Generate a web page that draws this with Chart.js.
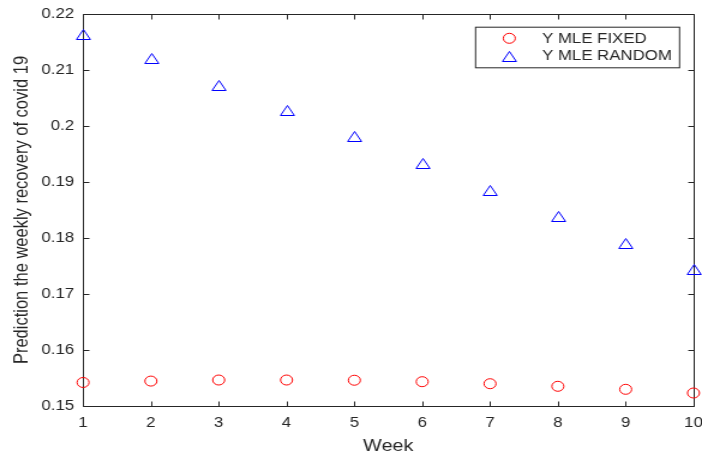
<!DOCTYPE html>
<html>
<head>
<meta charset="utf-8">
<title>Weekly recovery prediction</title>
<script src="https://cdn.jsdelivr.net/npm/chart.js@4/dist/chart.umd.min.js"></script>
<style>
  html, body { margin: 0; padding: 0; background: #fff; overflow: hidden; }
  /* the source figure is stretched ~1.2x horizontally, so draw narrow and stretch */
  #wrap { width: 585px; height: 454px; transform: scaleX(1.2); transform-origin: 0 0; }
</style>
</head>
<body>
<div id="wrap"><canvas id="chart" width="585" height="454"></canvas></div>
<script>
/* ---------------- DATA ---------------- */
const weeks       = [1, 2, 3, 4, 5, 6, 7, 8, 9, 10];
const yMleFixed   = [0.1542, 0.15445, 0.15464, 0.15464, 0.1546, 0.15434, 0.15398, 0.15352, 0.15298, 0.15232];
const yMleRandom  = [0.2165, 0.2121, 0.2074, 0.2028, 0.1982, 0.1934, 0.1886, 0.1839, 0.1791, 0.1745];
const seriesNames = ["Y MLE FIXED", "Y MLE RANDOM"];
const xTickValues = [1, 2, 3, 4, 5, 6, 7, 8, 9, 10];
const yTickValues = [0.15, 0.16, 0.17, 0.18, 0.19, 0.2, 0.21, 0.22];

/* --------------- STYLE ---------------- */
const FONT = "'Liberation Sans', Arial, Helvetica, sans-serif";
const INK  = "#262626";

// MATLAB '^' : open triangle centred on its bounding box, snapped to pixels
function strokeTriangle(ctx, x, y, color) {
  const cx = Math.round(x) + 0.5, cy = Math.round(y);
  ctx.save();
  ctx.strokeStyle = color;
  ctx.lineWidth = 1;
  ctx.beginPath();
  ctx.moveTo(cx, cy - 4.5);
  ctx.lineTo(cx - 5.8, cy + 5.5);
  ctx.lineTo(cx + 5.8, cy + 5.5);
  ctx.closePath();
  ctx.stroke();
  ctx.restore();
}

function strokeCircle(ctx, x, y, r, color) {
  ctx.save();
  ctx.strokeStyle = color;
  ctx.lineWidth = 1;
  ctx.beginPath();
  ctx.arc(x, y, r, 0, Math.PI * 2);
  ctx.stroke();
  ctx.restore();
}

/* box + inward ticks on all four sides */
const boxAxes = {
  id: "boxAxes",
  beforeDatasetsDraw(chart) {
    const { ctx, chartArea: a, scales: { x, y } } = chart;
    const L = Math.round(a.left) + 0.5, R = Math.round(a.right) + 0.5;
    const T = Math.round(a.top) + 0.5,  B = Math.round(a.bottom) + 0.5;
    ctx.save();
    ctx.strokeStyle = INK;
    ctx.lineWidth = 1;
    ctx.beginPath();
    ctx.rect(L, T, R - L, B - T);
    x.ticks.forEach(t => {
      const px = Math.round(x.getPixelForValue(t.value)) + 0.5;
      ctx.moveTo(px, B); ctx.lineTo(px, B - 5);
      ctx.moveTo(px, T); ctx.lineTo(px, T + 5);
    });
    y.ticks.forEach(t => {
      const py = Math.round(y.getPixelForValue(t.value)) + 0.5;
      ctx.moveTo(L, py); ctx.lineTo(L + 5, py);
      ctx.moveTo(R, py); ctx.lineTo(R - 5, py);
    });
    ctx.stroke();
    ctx.restore();
  }
};

/* triangles drawn at the points the scatter controller placed */
const triangleMarks = {
  id: "triangleMarks",
  afterDatasetsDraw(chart) {
    chart.data.datasets.forEach((ds, i) => {
      if (ds.marker !== "triangle") return;
      chart.getDatasetMeta(i).data.forEach(pt => strokeTriangle(chart.ctx, pt.x, pt.y, ds.borderColor));
    });
  }
};

/* boxed legend in the upper right, like MATLAB's */
const boxLegend = {
  id: "boxLegend",
  afterDraw(chart, args, o) {
    const ctx = chart.ctx;
    ctx.save();
    ctx.fillStyle = "#fff";
    ctx.fillRect(o.left, o.top, o.width, o.height);
    ctx.strokeStyle = INK;
    ctx.lineWidth = 1;
    ctx.strokeRect(o.left + 0.5, o.top + 0.5, o.width, o.height);
    ctx.font = `14px ${FONT}`;
    ctx.textBaseline = "middle";
    ctx.fillStyle = INK;
    chart.data.datasets.forEach((ds, i) => {
      const cy = o.rowY[i];
      if (ds.marker === "triangle") strokeTriangle(ctx, o.markerX, cy, ds.borderColor);
      else strokeCircle(ctx, o.markerX, cy, 5, ds.borderColor);
      ctx.fillText(ds.label, o.textX, cy + 0.5);
    });
    ctx.restore();
  }
};

const axisTickFont  = { family: FONT, size: 14 };
const axisTitleFont = { family: FONT, size: 16.5 };

new Chart(document.getElementById("chart"), {
  type: "scatter",
  data: {
    datasets: [
      {
        label: seriesNames[0],
        data: weeks.map((w, i) => ({ x: w, y: yMleFixed[i] })),
        marker: "circle",
        pointStyle: "circle",
        pointRadius: 5,
        borderColor: "#ff0000",
        backgroundColor: "rgba(0,0,0,0)",
        borderWidth: 1,
        clip: false
      },
      {
        label: seriesNames[1],
        data: weeks.map((w, i) => ({ x: w, y: yMleRandom[i] })),
        marker: "triangle",
        pointRadius: 0,
        borderColor: "#0000ff",
        backgroundColor: "rgba(0,0,0,0)",
        clip: false
      }
    ]
  },
  options: {
    responsive: false,
    animation: false,
    layout: { padding: { left: 0, top: 14, right: 7.1, bottom: 0 } },
    plugins: {
      legend: { display: false },
      tooltip: { enabled: false },
      boxLegend: { left: 395.8, top: 26.7, width: 170, height: 40.6, markerX: 424.4, textX: 451.7, rowY: [38.3, 55.8] }
    },
    scales: {
      x: {
        type: "linear",
        min: 1, max: 10,
        afterBuildTicks: s => { s.ticks = xTickValues.map(v => ({ value: v })); },
        afterFit: s => { s.height = 48; s.paddingLeft = 0; s.paddingRight = 0; },
        grid: { display: false, drawTicks: false },
        border: { display: false },
        ticks: { autoSkip: false, maxRotation: 0, padding: 8.5, color: INK, font: axisTickFont, callback: v => String(v) },
        title: { display: true, text: "Week", color: INK, font: axisTitleFont, padding: { top: 0, bottom: -2 } }
      },
      y: {
        type: "linear",
        min: 0.15, max: 0.22,
        afterBuildTicks: s => { s.ticks = yTickValues.map(v => ({ value: v })); },
        afterFit: s => { s.width = 69.2; s.paddingTop = 0; s.paddingBottom = 0; },
        grid: { display: false, drawTicks: false },
        border: { display: false },
        ticks: { padding: 7.5, color: INK, font: axisTickFont, callback: v => String(+(+v).toFixed(2)) },
        title: { display: true, text: "Prediction the weekly recovery of covid 19", color: INK, font: axisTitleFont, padding: { top: 8.5, bottom: 0 } }
      }
    }
  },
  plugins: [boxAxes, triangleMarks, boxLegend]
});
</script>
</body>
</html>
